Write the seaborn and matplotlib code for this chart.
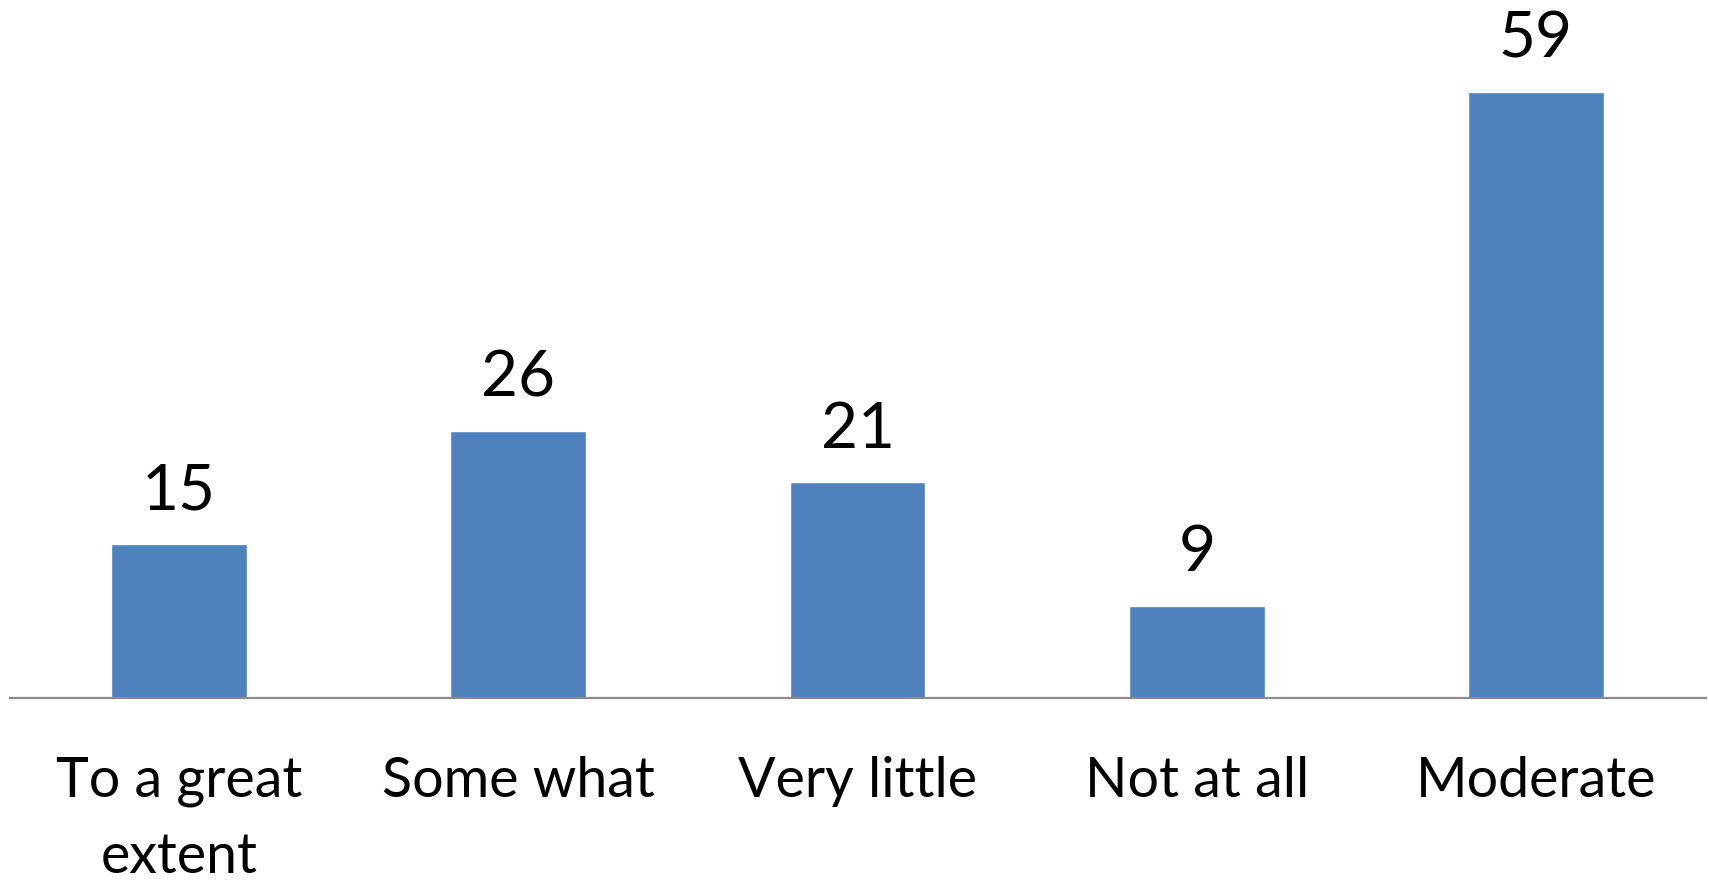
import matplotlib.pyplot as plt
import pandas as pd
import seaborn as sns

categories = ["To a great\nextent", "Some what", "Very little", "Not at all", "Moderate"]
values = [15, 26, 21, 9, 59]

df = pd.DataFrame({"response": categories, "count": values})

sns.set_style("white")
plt.rcParams['font.family'] = ['Lato', 'DejaVu Sans']
plt.rcParams['text.color'] = 'black'
plt.rcParams['xtick.color'] = 'black'

fig = plt.figure(figsize=(17.09, 8.8), dpi=100)
ax = fig.add_axes([9.5 / 1709, 182 / 880, 1696 / 1709, 698 / 880])

sns.barplot(data=df, x="response", y="count", color="#4F81BD", saturation=1,
            width=0.4, ax=ax)

# value labels above bars
for container in ax.containers:
    ax.bar_label(container, fontsize=46, padding=17, color="black")

ax.set_xlim(-0.5, 4.5)
ax.set_ylim(0, 68)
ax.set_xlabel("")
ax.set_ylabel("")
ax.set_yticks([])
ax.tick_params(axis="x", length=0, pad=42, labelsize=40, labelcolor="black")
for lbl in ax.get_xticklabels():
    lbl.set_linespacing(1.6)

sns.despine(ax=ax, left=True)
ax.spines["bottom"].set_color("#8c8c8c")
ax.spines["bottom"].set_linewidth(1.6)

fig.savefig("out.png", dpi=100)
